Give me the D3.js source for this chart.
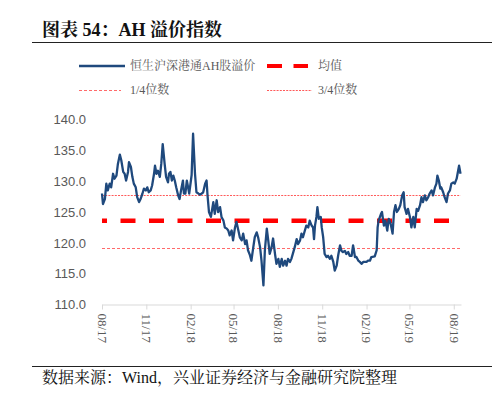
<!DOCTYPE html>
<html><head><meta charset="utf-8">
<script src="https://cdn.jsdelivr.net/npm/d3@7"></script>
<style>
body{margin:0;background:#fff;}
svg{display:block;}
</style></head>
<body>
<svg id="c" width="500" height="393"></svg>
<script>
const title = "图表 54：AH 溢价指数";
const source = "数据来源：Wind，兴业证券经济与金融研究院整理";
const seriesName = "恒生沪深港通AH股溢价";
const legendNames = ["均值", "1/4位数", "3/4位数"];
const yTicks = [110, 115, 120, 125, 130, 135, 140];
const xTickDates = ["2017-08-01","2017-11-01","2018-02-01","2018-05-01","2018-08-01","2018-11-01","2019-02-01","2019-05-01","2019-08-01"];
const meanValue = 123.6;
const q1Value = 119.0;
const q3Value = 127.7;
const dates = ["2017-08-01","2017-08-03","2017-08-07","2017-08-10","2017-08-13","2017-08-17","2017-08-20","2017-08-24","2017-08-27","2017-08-31",
"2017-09-03","2017-09-07","2017-09-10","2017-09-14","2017-09-17","2017-09-20","2017-09-24","2017-09-26","2017-09-30","2017-10-03",
"2017-10-06","2017-10-10","2017-10-13","2017-10-17","2017-10-20","2017-10-24","2017-10-27","2017-10-31","2017-11-03","2017-11-06",
"2017-11-10","2017-11-13","2017-11-17","2017-11-19","2017-11-22","2017-11-25","2017-11-29","2017-12-02","2017-12-05","2017-12-09",
"2017-12-12","2017-12-16","2017-12-18","2017-12-21","2017-12-24","2017-12-27","2017-12-30","2018-01-02","2018-01-06","2018-01-09",
"2018-01-12","2018-01-16","2018-01-18","2018-01-21","2018-01-24","2018-01-29","2018-02-03","2018-02-06","2018-02-10","2018-02-13",
"2018-02-17","2018-02-20","2018-02-24","2018-02-27","2018-03-03","2018-03-06","2018-03-08","2018-03-11","2018-03-15","2018-03-20",
"2018-03-23","2018-03-27","2018-03-30","2018-04-03","2018-04-06","2018-04-10","2018-04-13","2018-04-17","2018-04-20","2018-04-23",
"2018-04-27","2018-04-30","2018-05-04","2018-05-07","2018-05-11","2018-05-14","2018-05-18","2018-05-21","2018-05-25","2018-05-28",
"2018-05-31","2018-06-04","2018-06-07","2018-06-11","2018-06-14","2018-06-18","2018-06-21","2018-06-25","2018-06-28","2018-07-02",
"2018-07-05","2018-07-09","2018-07-12","2018-07-15","2018-07-19","2018-07-22","2018-07-26","2018-07-29","2018-08-02","2018-08-05",
"2018-08-09","2018-08-12","2018-08-16","2018-08-19","2018-08-22","2018-08-26","2018-08-29","2018-09-02","2018-09-05","2018-09-09",
"2018-09-12","2018-09-16","2018-09-19","2018-09-22","2018-09-26","2018-09-29","2018-10-03","2018-10-06","2018-10-10","2018-10-13",
"2018-10-15","2018-10-17","2018-10-20","2018-10-22","2018-10-25","2018-10-29","2018-10-31","2018-11-03","2018-11-06","2018-11-10",
"2018-11-13","2018-11-17","2018-11-20","2018-11-24","2018-11-27","2018-12-01","2018-12-04","2018-12-08","2018-12-11","2018-12-14",
"2018-12-18","2018-12-21","2018-12-25","2018-12-28","2019-01-01","2019-01-04","2019-01-08","2019-01-11","2019-01-15","2019-01-18",
"2019-01-22","2019-01-25","2019-01-28","2019-02-01","2019-02-04","2019-02-08","2019-02-11","2019-02-18","2019-02-22","2019-02-24",
"2019-02-26","2019-03-03","2019-03-05","2019-03-09","2019-03-12","2019-03-16","2019-03-19","2019-03-23","2019-03-27","2019-03-30",
"2019-04-02","2019-04-05","2019-04-09","2019-04-12","2019-04-16","2019-04-19","2019-04-21","2019-04-25","2019-04-28","2019-05-02",
"2019-05-05","2019-05-09","2019-05-12","2019-05-16","2019-05-19","2019-05-23","2019-05-26","2019-05-29","2019-06-02","2019-06-05",
"2019-06-09","2019-06-12","2019-06-16","2019-06-19","2019-06-23","2019-06-26","2019-06-28","2019-07-01","2019-07-04","2019-07-06",
"2019-07-10","2019-07-13","2019-07-17","2019-07-20","2019-07-24","2019-07-27","2019-07-31","2019-08-03","2019-08-07","2019-08-10",
"2019-08-12","2019-08-15"];
const values = [128.0,126.3,127.1,129.6,128.5,129.6,129.0,131.2,130.4,130.9,
132.8,134.3,133.4,131.5,131.2,130.1,131.5,133.1,132.3,130.7,
129.6,129.0,127.4,126.6,127.1,128.0,128.8,128.5,129.0,128.2,
128.5,129.3,131.2,132.5,131.2,131.7,130.7,132.8,136.0,132.8,
130.7,129.8,131.2,131.5,130.1,130.9,130.1,129.0,127.7,127.1,
128.5,130.1,128.0,128.0,130.1,128.0,131.0,137.7,131.2,128.2,
128.0,127.8,128.0,128.2,129.6,130.1,127.7,125.0,124.2,126.6,
124.7,126.9,125.0,125.8,124.2,123.6,122.5,122.3,122.0,121.2,
122.0,120.4,122.5,123.4,122.0,120.9,120.4,121.5,119.8,120.4,
118.8,118.0,117.1,119.3,120.9,121.7,120.9,119.3,117.1,113.1,
118.8,122.3,120.4,118.2,119.3,120.7,118.2,116.6,117.4,116.1,
117.4,116.3,117.1,116.3,117.4,116.9,117.4,118.5,119.3,120.6,
119.8,120.4,121.5,120.9,122.0,122.8,122.5,123.6,122.8,122.5,
120.6,122.8,124.2,125.8,123.9,124.2,122.5,120.9,118.2,117.7,
117.9,117.4,117.9,116.9,115.5,116.3,117.9,119.6,118.7,118.5,
118.7,118.2,118.5,117.9,117.9,119.6,117.7,117.7,117.1,116.9,
116.6,116.9,116.9,116.9,117.1,117.1,117.7,117.8,118.8,122.5,
123.6,124.7,125.0,122.8,123.6,122.0,123.9,123.1,121.5,125.0,
126.1,125.0,125.5,126.1,127.7,128.2,125.8,124.7,125.5,124.2,
122.5,124.2,122.5,125.5,125.2,126.1,127.4,126.6,127.7,126.9,
127.4,128.0,128.5,127.7,129.0,129.6,130.9,130.1,128.8,129.0,
128.2,127.4,126.6,128.0,128.5,129.6,129.8,129.6,130.4,131.7,
132.5,131.2];

const parse = d3.timeParse("%Y-%m-%d");
const data = dates.map((d, i) => ({date: parse(d), value: values[i]}));
const svg = d3.select("#c");

const x = d3.scaleTime().domain([parse("2017-08-01"), parse("2019-08-16")]).range([102, 461]);
const y = d3.scaleLinear().domain([110, 140]).range([304.5, 119.5]);
const crisp = v => Math.round(v - 0.5) + 0.5;

const serifCJK = "'Liberation Serif','Times New Roman','Noto Serif CJK SC','Noto Sans CJK SC',serif";
const q3Style = {color: "#FF5A5A", dash: "2,1.2", width: 1.2};
const q1Style = {color: "#FF6A6A", dash: "3,2", width: 1.1};

// title
svg.append("text").attr("x", 42).attr("y", 36)
  .attr("font-family", serifCJK).attr("font-weight", "bold").attr("font-size", 18).attr("fill", "#111")
  .text(title);
svg.append("line").attr("x1", 32).attr("x2", 492).attr("y1", 42.5).attr("y2", 42.5).attr("stroke", "#222").attr("stroke-width", 1);

// footer
svg.append("line").attr("x1", 32).attr("x2", 492).attr("y1", 366.5).attr("y2", 366.5).attr("stroke", "#222").attr("stroke-width", 1);
svg.append("text").attr("x", 42).attr("y", 383)
  .attr("font-family", serifCJK).attr("font-size", 16).attr("fill", "#111")
  .text(source);

// legend
const lg = svg.append("g").attr("font-family", serifCJK).attr("font-size", 12).attr("fill", "#595959");
lg.append("line").attr("x1", 79).attr("x2", 125).attr("y1", 66).attr("y2", 66).attr("stroke", "#1F497D").attr("stroke-width", 2.5);
lg.append("text").attr("x", 130).attr("y", 70).text(seriesName);
lg.append("line").attr("x1", 267).attr("x2", 308).attr("y1", 66).attr("y2", 66).attr("stroke", "#FF0000").attr("stroke-width", 4).attr("stroke-dasharray", "15,11.5");
lg.append("text").attr("x", 318).attr("y", 70).text(legendNames[0]);
lg.append("line").attr("x1", 79).attr("x2", 121).attr("y1", 90.5).attr("y2", 90.5).attr("stroke", q1Style.color).attr("stroke-width", q1Style.width).attr("stroke-dasharray", q1Style.dash);
lg.append("text").attr("x", 130).attr("y", 94).text(legendNames[1]);
lg.append("line").attr("x1", 267).attr("x2", 312).attr("y1", 90.5).attr("y2", 90.5).attr("stroke", q3Style.color).attr("stroke-width", q3Style.width).attr("stroke-dasharray", q3Style.dash);
lg.append("text").attr("x", 318).attr("y", 94).text(legendNames[2]);

// y axis
const ya = svg.append("g").attr("transform", "translate(102,0)")
  .call(d3.axisLeft(y).tickValues(yTicks).tickSize(0).tickPadding(16).tickFormat(d3.format(".1f")));
ya.select(".domain").remove();
ya.selectAll("text").attr("font-family", "'Liberation Sans',Arial,sans-serif").attr("font-size", 13).attr("fill", "#595959");

// x axis
const xa = svg.append("g").attr("transform", "translate(0,304.5)")
  .call(d3.axisBottom(x).tickValues(xTickDates.map(parse)).tickSize(5).tickSizeOuter(0).tickFormat(d3.timeFormat("%m/%y")));
xa.select(".domain").attr("stroke", "#D9D9D9").attr("stroke-width", 1.2);
xa.selectAll(".tick line").attr("stroke", "#D9D9D9");
xa.selectAll("text")
  .attr("font-family", "'Liberation Serif','Times New Roman',serif").attr("font-size", 13).attr("fill", "#595959")
  .attr("transform", "rotate(90)").attr("x", 9).attr("y", 0).attr("dy", "0.35em").attr("text-anchor", "start");

// reference lines
const x0 = x(data[0].date), x1 = x(data[data.length - 1].date);
svg.append("line").attr("x1", x0).attr("x2", x1).attr("y1", crisp(y(q3Value))).attr("y2", crisp(y(q3Value)))
  .attr("stroke", q3Style.color).attr("stroke-width", q3Style.width).attr("stroke-dasharray", q3Style.dash);
svg.append("line").attr("x1", x0).attr("x2", x1).attr("y1", crisp(y(q1Value))).attr("y2", crisp(y(q1Value)))
  .attr("stroke", q1Style.color).attr("stroke-width", q1Style.width).attr("stroke-dasharray", q1Style.dash);
svg.append("line").attr("x1", x0).attr("x2", x1).attr("y1", y(meanValue)).attr("y2", y(meanValue))
  .attr("stroke", "#FF0000").attr("stroke-width", 4.5).attr("stroke-dasharray", "15,13.5").attr("stroke-dashoffset", 10);

// series
const line = d3.line().x(d => x(d.date)).y(d => y(d.value));
svg.append("path").datum(data).attr("d", line)
  .attr("fill", "none").attr("stroke", "#1F497D").attr("stroke-width", 2.3).attr("stroke-linejoin", "round");
</script>
</body></html>
